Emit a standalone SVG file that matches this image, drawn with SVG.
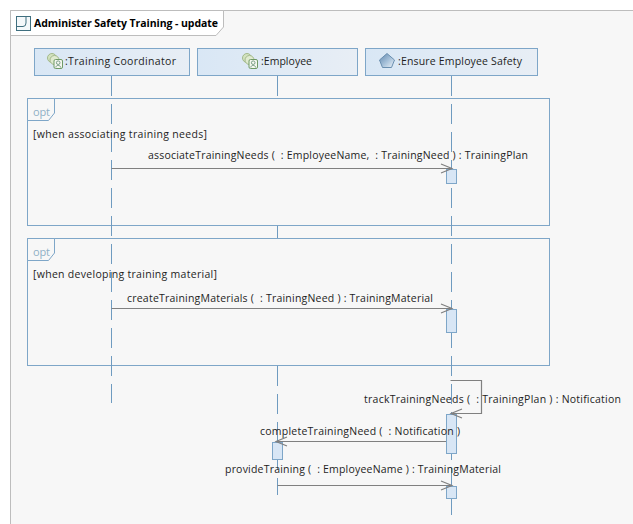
<svg xmlns="http://www.w3.org/2000/svg" width="633" height="524" viewBox="0 0 633 524">
<style>
text{font-family:"Open Sans","Noto Sans","Liberation Sans",sans-serif;font-size:10.5px;fill:#1e1e1e;white-space:pre}
.title{font-weight:700;font-size:10.5px;fill:#000}
.opt{fill:#8fb0c6;font-size:11px}
.head{fill:url(#hg);stroke:#7ea6c8;stroke-width:1}
.frag{fill:#f7f7f7;stroke:#7ea6c8;stroke-width:1}
.tab{fill:#f7f7f7;stroke:#7ea6c8;stroke-width:1}
.life{stroke:#6f9bc0;stroke-width:1;stroke-dasharray:20 8;fill:none}
.act{fill:#d8e6f5;stroke:#7ea6c8;stroke-width:1}
.msg{stroke:#808080;stroke-width:1.2;fill:none}
</style>
<defs>
<linearGradient id="hg" x1="0" y1="0" x2="1" y2="0"><stop offset="0" stop-color="#d9e7f5"/><stop offset="1" stop-color="#e8eef5"/></linearGradient>
<linearGradient id="pg" x1="0" y1="0" x2="1" y2="1"><stop offset="0" stop-color="#5f86ad"/><stop offset="0.55" stop-color="#a9c3db"/><stop offset="1" stop-color="#eef3f8"/></linearGradient>
<marker id="open" markerUnits="userSpaceOnUse" markerWidth="14" markerHeight="12" refX="12" refY="6" orient="auto"><path d="M1 1.500L12 6L1 10.500" fill="none" stroke="#808080" stroke-width="1.2"/></marker>
<g id="actor"><circle cx="5" cy="5" r="4.500" fill="#d3e3bf" stroke="#a3b98c"/><circle cx="7.500" cy="7" r="4.500" fill="#e0ebd0" stroke="#a3b98c"/><rect x="7" y="6.500" width="8.500" height="9" rx="1.500" fill="#f4f7ef" stroke="#6f9a66"/><circle cx="11.200" cy="9.700" r="1.800" fill="none" stroke="#5f8a70" stroke-width="0.8"/><path d="M8.800 14.500c0-2.800 4.800-2.800 4.800 0" fill="none" stroke="#5f8a70" stroke-width="0.8"/></g>
</defs>

<rect x="0" y="0" width="633" height="524" fill="#fff"/>
<g id="frame">
<rect x="10.500" y="10.500" width="640" height="530" fill="#f7f7f7" stroke="#bdbdbd"/>
<path d="M10.500 10.500H223.500V27L216 35.500H10.500Z" fill="#fff" stroke="#bdbdbd"/>
<g fill="none" stroke="#3f6f7f"><rect x="16.500" y="16.500" width="14" height="14" fill="#f4f8fa"/><path d="M17 26.500H23Q26 26.500 26 23V17"/></g>
<text class="title" x="34" y="27" textLength="184" lengthAdjust="spacing">Administer Safety Training - update</text>
</g>

<g id="fragment-1">
<rect class="frag" x="27.500" y="98.500" width="522" height="127"/>
<path class="tab" d="M27.500 98.500H54.500V113L48.500 120.500H27.500Z"/>
<text class="opt" x="33" y="116" textLength="17" lengthAdjust="spacing">opt</text>
</g>
<g id="fragment-2">
<rect class="frag" x="27.500" y="238.500" width="522" height="127"/>
<path class="tab" d="M27.500 238.500H54.500V253L48.500 260.500H27.500Z"/>
<text class="opt" x="33" y="256" textLength="17" lengthAdjust="spacing">opt</text>
</g>

<g id="lifelines">
<path class="life" d="M111.500 76V403"/>
<path class="life" d="M277.500 76V96"/>
<path class="life" d="M277.500 226V238"/>
<path class="life" d="M277.500 366V495"/>
<path class="life" d="M451.500 76V515"/>
</g>

<g id="node-coordinator">
<rect class="head" x="34.500" y="48.500" width="155" height="27"/>
<use href="#actor" x="47" y="53"/>
<text x="65" y="65" textLength="111" lengthAdjust="spacing">:Training Coordinator</text>
</g>
<g id="node-employee">
<rect class="head" x="197.500" y="48.500" width="160" height="27"/>
<use href="#actor" x="242" y="53"/>
<text x="261" y="65" textLength="51" lengthAdjust="spacing">:Employee</text>
</g>
<g id="node-safety">
<rect class="head" x="365.500" y="48.500" width="172" height="27"/>
<path d="M387 53.500L394.500 60L391.500 67.500H382.500L379.500 60Z" fill="url(#pg)" stroke="#6a8fb0"/>
<text x="398" y="65" textLength="124" lengthAdjust="spacing">:Ensure Employee Safety</text>
</g>

<g id="activations">
<rect class="act" x="446.500" y="169.500" width="10" height="14"/>
<rect class="act" x="446.500" y="309.500" width="10" height="23"/>
<rect class="act" x="446.500" y="414.500" width="10" height="39"/>
<rect class="act" x="272.500" y="442.500" width="10" height="17"/>
<rect class="act" x="446.500" y="486.500" width="10" height="12"/>
</g>

<g id="connectors">
<path class="msg" d="M111.500 168.500H452" marker-end="url(#open)"/>
<path class="msg" d="M111.500 308.500H452" marker-end="url(#open)"/>
<path class="msg" d="M450.500 380.500H481.500V413.500H451" marker-end="url(#open)"/>
<path class="msg" d="M446 441.500H276" marker-end="url(#open)"/>
<path class="msg" d="M277.500 485.500H452" marker-end="url(#open)"/>
</g>

<g id="labels">
<text x="33" y="138" textLength="174" lengthAdjust="spacing">[when associating training needs]</text>
<text x="148" y="159" textLength="380" lengthAdjust="spacing">associateTrainingNeeds (  : EmployeeName,  : TrainingNeed ) : TrainingPlan</text>
<text x="33" y="278" textLength="184" lengthAdjust="spacing">[when developing training material]</text>
<text x="127" y="302" textLength="306" lengthAdjust="spacing">createTrainingMaterials (  : TrainingNeed ) : TrainingMaterial</text>
<text x="364" y="403" textLength="257" lengthAdjust="spacing">trackTrainingNeeds (  : TrainingPlan ) : Notification</text>
<text x="260" y="435" textLength="200" lengthAdjust="spacing">completeTrainingNeed (  : Notification )</text>
<text x="225" y="473" textLength="276" lengthAdjust="spacing">provideTraining (  : EmployeeName ) : TrainingMaterial</text>
</g>
</svg>
